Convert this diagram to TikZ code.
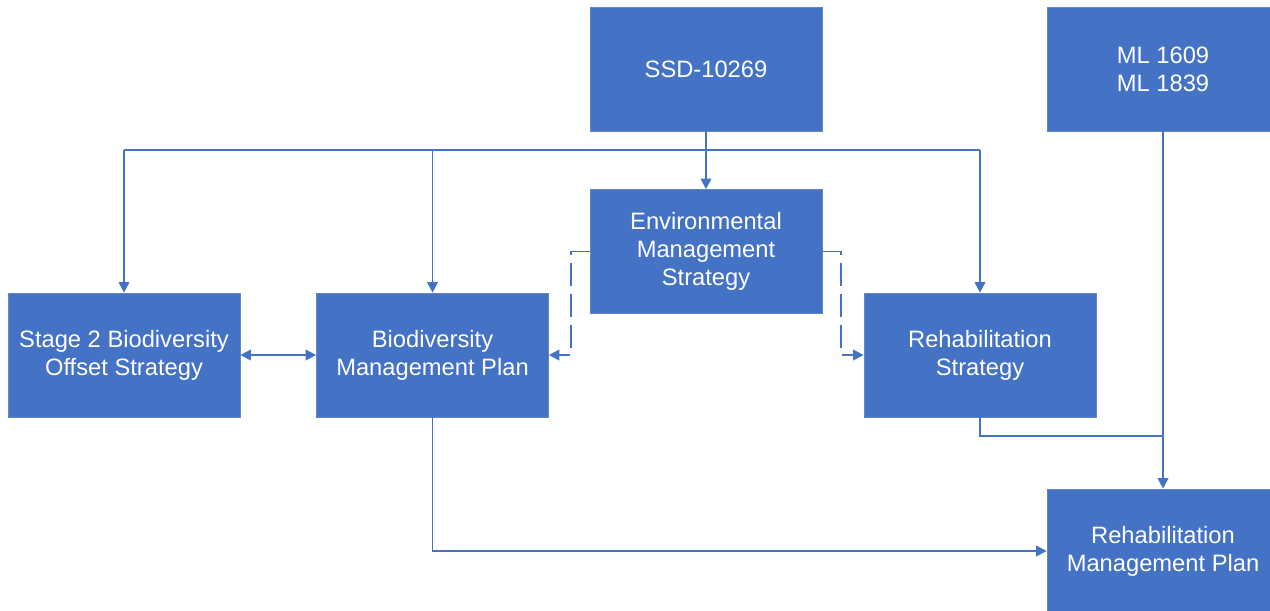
\documentclass[tikz,border=0pt]{standalone}
\usepackage{fontspec}
\setmainfont{Liberation Sans}
\usetikzlibrary{arrows.meta}
\definecolor{boxblue}{HTML}{4472C4}
\definecolor{lineblue}{HTML}{4472C4}
\begin{document}
\begin{tikzpicture}[x=0.02cm,y=-0.02cm,
  box/.style={fill=boxblue,draw=boxblue!85!white,line width=0.4pt,text=white,align=center,
    minimum width=4.64cm,minimum height=2.48cm,inner sep=0pt,
    font=\fontsize{13.5}{16}\selectfont},
  wire/.style={draw=lineblue,line width=1.1pt},
  conn/.style={wire,-{Triangle[length=6pt,width=6pt]}},
  conntwo/.style={wire,{Triangle[length=6pt,width=6pt]}-{Triangle[length=6pt,width=6pt]}},
  dconn/.style={conn,dash pattern=on 13pt off 4.5pt}]
\clip (0,0) rectangle (1270,610);
\fill[white] (0,0) rectangle (1270,610);
\node[box] (ssd) at (706,69) {SSD-10269};
\node[box] (ml) at (1163,69) {ML 1609\\ML 1839};
\node[box] (ems) at (706,251.5) {Environmental\\Management\\Strategy};
\node[box] (s2) at (124,355) {Stage 2 Biodiversity\\Offset Strategy};
\node[box] (bmp) at (432.5,355) {Biodiversity\\Management Plan};
\node[box] (rs) at (980,355) {Rehabilitation\\Strategy};
\node[box] (rmp) at (1163,551) {Rehabilitation\\Management Plan};
\coordinate (bus) at (706,150);
\coordinate (join) at (1163,436);
% bus from SSD
\draw[conn] (ssd.south) -- (ems.north);
\draw[wire] (s2.north |- bus) -- (rs.north |- bus);
\draw[conn] (s2.north |- bus) -- (s2.north);
\draw[conn] (bmp.north |- bus) -- (bmp.north);
\draw[conn] (rs.north |- bus) -- (rs.north);
% double arrow
\draw[conntwo] (s2.east) -- (bmp.west);
% dashed
\draw[dconn] (ems.west) -- ++(-19,0) |- (bmp.east);
\draw[dconn] (ems.east) -- ++(19,0) |- (rs.west);
% ML to RMP
\draw[conn] (ml.south) -- (rmp.north);
\draw[wire] (rs.south) |- (join);
\draw[conn] (bmp.south) |- (rmp.west);
\end{tikzpicture}
\end{document}
